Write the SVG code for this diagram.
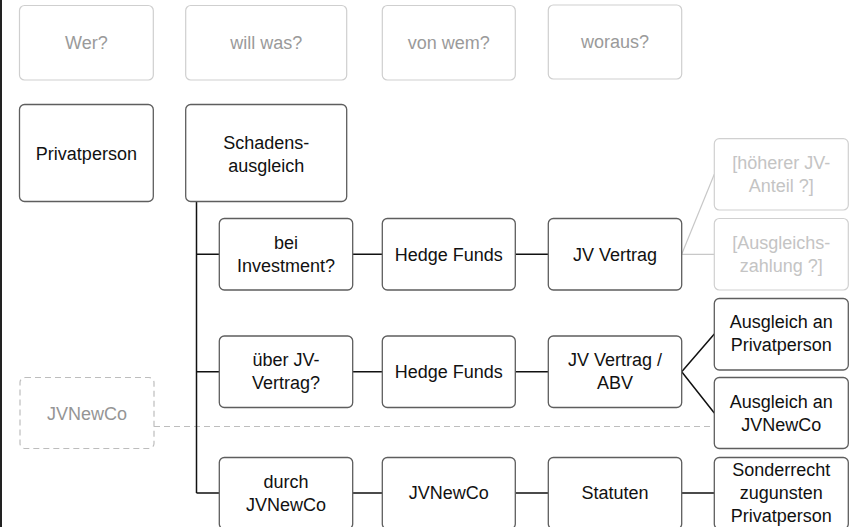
<svg xmlns="http://www.w3.org/2000/svg" width="856" height="527" viewBox="0 0 856 527">
  <style>
    text { font-family: "Liberation Sans", Arial, sans-serif; font-size: 18px; text-anchor: middle; }
    .box { fill: #ffffff; stroke: #5e5e5e; stroke-width: 1.3; }
    .head { fill: #ffffff; stroke: #cfcfcf; stroke-width: 1.2; }
    .ghost { fill: #ffffff; stroke: #d0d0d0; stroke-width: 1.2; }
    .dashed { fill: #ffffff; stroke: #bdbdbd; stroke-width: 1.2; stroke-dasharray: 6 4; }
    .t { fill: #111111; }
    .th { fill: #9a9a9a; }
    .tg { fill: #c4c4c4; }
    .tdash { fill: #959595; }
    .link { fill: none; stroke: #111111; stroke-width: 1.5; }
    .link-ghost { fill: none; stroke: #c8c8c8; stroke-width: 1.2; }
    .link-dash { fill: none; stroke: #bdbdbd; stroke-width: 1.2; stroke-dasharray: 6 4; }
  </style>

  <!-- left margin rule -->
  <line x1="1" y1="0" x2="1" y2="527" stroke="#222222" stroke-width="2"/>

  <!-- connectors -->
  <g id="connectors">
    <path class="link-dash" d="M154 426.5 H714.3"/>
    <path class="link" d="M196.5 201.5 V493 M196.5 254.3 H219.3 M196.5 371.7 H219.3 M196.5 493 H219.3"/>
    <path class="link" d="M352.7 254.3 H382.3 M515.3 254.3 H548.3"/>
    <path class="link" d="M352.7 371.7 H382.3 M515.3 371.7 H548.3"/>
    <path class="link" d="M681.7 371.7 L714.3 334 M681.7 371.7 L714.3 413"/>
    <path class="link" d="M352.7 493 H382.3 M515.3 493 H548.3 M681.7 493 H714.3"/>
    <path class="link-ghost" d="M681.7 254.3 L714.3 174.3 M681.7 254.3 H714.3"/>
  </g>

  <!-- column headers -->
  <g id="h-wer"><rect class="head" x="19.5" y="5.5" width="133.8" height="74.5" rx="5"/><text class="th" x="86.4" y="49">Wer?</text></g>
  <g id="h-was"><rect class="head" x="185.7" y="5.5" width="161" height="74.5" rx="5"/><text class="th" x="266.2" y="49">will was?</text></g>
  <g id="h-wem"><rect class="head" x="382.3" y="5.5" width="133" height="74.5" rx="5"/><text class="th" x="448.8" y="49">von wem?</text></g>
  <g id="h-woraus"><rect class="head" x="548.3" y="5" width="133.4" height="74" rx="5"/><text class="th" x="615" y="48">woraus?</text></g>

  <!-- first level -->
  <g id="privatperson"><rect class="box" x="19.5" y="104.5" width="133.8" height="97" rx="5"/><text class="t" x="86.4" y="160">Privatperson</text></g>
  <g id="schadensausgleich"><rect class="box" x="185.7" y="104.5" width="161" height="97" rx="5"/><text class="t" x="266.2" y="149">Schadens-</text><text class="t" x="266.2" y="172">ausgleich</text></g>

  <!-- row 1 -->
  <g id="investment"><rect class="box" x="219.3" y="218.5" width="133.4" height="71.5" rx="5"/><text class="t" x="286" y="249">bei</text><text class="t" x="286" y="272">Investment?</text></g>
  <g id="hedge1"><rect class="box" x="382.3" y="218.5" width="133" height="71.5" rx="5"/><text class="t" x="448.8" y="261">Hedge Funds</text></g>
  <g id="jv1"><rect class="box" x="548.3" y="218.5" width="133.4" height="71.5" rx="5"/><text class="t" x="615" y="261">JV Vertrag</text></g>
  <g id="anteil"><rect class="ghost" x="714.3" y="138.7" width="134" height="71.3" rx="5"/><text class="tg" x="781.3" y="169">[höherer JV-</text><text class="tg" x="781.3" y="192">Anteil ?]</text></g>
  <g id="zahlung"><rect class="ghost" x="714.3" y="218.5" width="134" height="71.5" rx="5"/><text class="tg" x="781.3" y="249">[Ausgleichs-</text><text class="tg" x="781.3" y="272">zahlung ?]</text></g>

  <!-- row 2 -->
  <g id="ueber-jv"><rect class="box" x="219.3" y="336" width="133.4" height="71.5" rx="5"/><text class="t" x="286" y="366">über JV-</text><text class="t" x="286" y="389">Vertrag?</text></g>
  <g id="hedge2"><rect class="box" x="382.3" y="336" width="133" height="71.5" rx="5"/><text class="t" x="448.8" y="378">Hedge Funds</text></g>
  <g id="jv-abv"><rect class="box" x="548.3" y="336" width="133.4" height="71.5" rx="5"/><text class="t" x="615" y="366">JV Vertrag /</text><text class="t" x="615" y="389">ABV</text></g>
  <g id="an-privat"><rect class="box" x="714.3" y="298.5" width="134" height="71.5" rx="5"/><text class="t" x="781.3" y="328">Ausgleich an</text><text class="t" x="781.3" y="351">Privatperson</text></g>
  <g id="an-jvnewco"><rect class="box" x="714.3" y="377.5" width="134" height="71" rx="5"/><text class="t" x="781.3" y="408">Ausgleich an</text><text class="t" x="781.3" y="431">JVNewCo</text></g>
  <g id="jvnewco-side"><rect class="dashed" x="20" y="377.5" width="134" height="71" rx="5"/><text class="tdash" x="87" y="420">JVNewCo</text></g>

  <!-- row 3 -->
  <g id="durch"><rect class="box" x="219.3" y="457.5" width="133.4" height="71.5" rx="5"/><text class="t" x="286" y="488">durch</text><text class="t" x="286" y="511">JVNewCo</text></g>
  <g id="jvnewco"><rect class="box" x="382.3" y="457.5" width="133" height="71.5" rx="5"/><text class="t" x="448.8" y="499">JVNewCo</text></g>
  <g id="statuten"><rect class="box" x="548.3" y="457.5" width="133.4" height="71.5" rx="5"/><text class="t" x="615" y="499">Statuten</text></g>
  <g id="sonderrecht"><rect class="box" x="714.3" y="457.5" width="134" height="71.5" rx="5"/><text class="t" x="781.3" y="476">Sonderrecht</text><text class="t" x="781.3" y="499">zugunsten</text><text class="t" x="781.3" y="522">Privatperson</text></g>
</svg>
